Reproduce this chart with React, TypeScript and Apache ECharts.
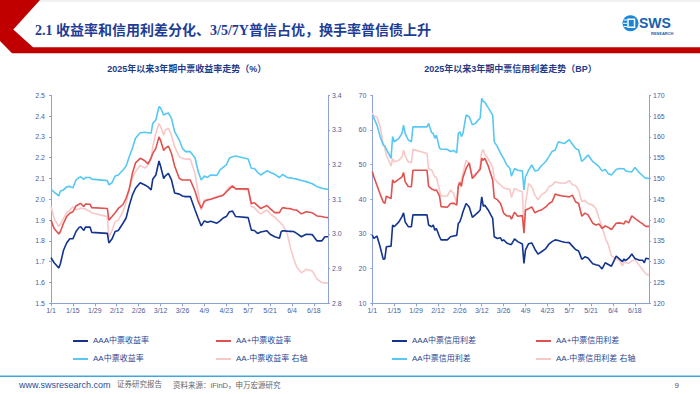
import React, { useEffect, useRef } from "react";
import * as echarts from "echarts";

// ---------- data (day index counted from 2025-01-01) ----------
const tickDays = [0, 14, 28, 42, 56, 70, 84, 98, 112, 126, 140, 154, 168];

const leftDays = [0,2,5,6,8,10,12,14,16,18,19,21,22,25,26,36,37,39,41,43,46,48,50,52,54,57,60,62,64,65,67,69,70,72,73,75,77,79,82,84,86,89,92,94,96,98,100,102,106,108,110,112,114,116,118,126,128,130,132,134,138,140,143,146,147,148,151,153,155,157,160,163,167,170,173,175,177];

const yieldAAA = [1.72,1.695,1.67,1.69,1.755,1.79,1.81,1.81,1.845,1.865,1.868,1.85,1.866,1.866,1.841,1.836,1.79,1.81,1.845,1.85,1.885,1.91,1.97,2.02,2.053,2.08,2.069,2.06,2.045,2.096,2.117,2.184,2.16,2.10,2.112,2.125,2.093,2.03,2.025,2.016,2.013,2.013,1.95,1.91,1.872,1.896,1.89,1.895,1.885,1.896,1.91,1.917,1.94,1.943,1.917,1.912,1.852,1.85,1.836,1.843,1.849,1.832,1.82,1.813,1.843,1.849,1.847,1.846,1.845,1.836,1.82,1.832,1.83,1.80,1.80,1.82,1.82];
const yieldAAp = [1.90,1.86,1.833,1.845,1.885,1.917,1.933,1.94,1.968,1.977,1.98,1.965,1.977,1.976,1.96,1.956,1.90,1.917,1.935,1.956,1.975,2.005,2.05,2.125,2.175,2.197,2.185,2.17,2.2,2.22,2.245,2.30,2.284,2.234,2.245,2.256,2.22,2.16,2.10,2.093,2.093,2.093,2.04,1.99,1.957,1.99,1.997,2.0,2.01,2.015,2.02,2.035,2.05,2.064,2.05,2.05,1.98,1.983,1.97,1.956,1.97,1.955,1.936,1.936,1.95,1.96,1.956,1.955,1.95,1.948,1.93,1.94,1.935,1.92,1.917,1.914,1.912];
const yieldAA = [2.048,2.035,2.016,2.04,2.045,2.06,2.062,2.055,2.093,2.105,2.108,2.096,2.105,2.105,2.097,2.09,2.069,2.08,2.112,2.117,2.141,2.16,2.205,2.245,2.293,2.32,2.322,2.32,2.318,2.365,2.381,2.445,2.44,2.405,2.41,2.415,2.389,2.325,2.285,2.245,2.229,2.229,2.2,2.135,2.093,2.112,2.105,2.117,2.115,2.141,2.153,2.165,2.197,2.205,2.208,2.194,2.149,2.148,2.13,2.117,2.137,2.13,2.12,2.105,2.112,2.12,2.105,2.103,2.1,2.097,2.09,2.085,2.075,2.061,2.053,2.05,2.048];
const yieldAAm = [3.079,3.045,3.021,3.028,3.045,3.061,3.069,3.078,3.07,3.072,3.075,3.073,3.072,3.065,3.061,3.05,2.99,3.01,3.035,3.04,3.065,3.09,3.13,3.16,3.18,3.198,3.19,3.199,3.215,3.252,3.29,3.319,3.31,3.285,3.3,3.305,3.285,3.252,3.223,3.218,3.216,3.216,3.175,3.12,3.069,3.098,3.1,3.099,3.108,3.11,3.112,3.125,3.136,3.14,3.13,3.127,3.079,3.076,3.065,3.058,3.069,3.058,3.048,3.035,3.03,3.026,3.0,2.96,2.93,2.905,2.888,2.898,2.893,2.87,2.86,2.859,2.859];

const rightDays = [0,1,3,5,7,8,9,12,13,14,17,19,20,21,23,25,26,35,36,38,39,40,41,43,44,48,50,52,54,55,56,57,58,60,62,64,66,68,69,70,71,72,74,77,78,80,82,83,84,86,88,89,91,93,96,97,98,100,102,104,106,108,111,113,115,117,119,121,123,126,128,130,132,134,136,138,141,143,145,147,149,151,153,156,158,160,161,162,164,166,168,171,173,174,175,177];

const spreadAAA = [29.7,28.7,29.4,26.3,22.7,22.8,26.3,26.5,32.6,32.1,33.5,35,36.1,33.5,32.1,32.1,35.5,35.5,32.6,32.1,32.6,31.1,31.6,29.2,28.3,28.3,29.2,29.4,29.6,33,33.5,34.8,36.4,38.8,37.8,34.8,35.6,36.4,36.9,40.7,38,38.3,37,34.5,29.2,28.7,28.9,28,28.3,27.4,27,27,28.6,27.8,27.1,21.5,25.4,27.2,27.4,25.6,24.2,24.8,25.8,27.1,27.8,28.3,28.1,27.8,27.6,27.5,26.5,25.5,25.1,22.7,23.4,23.1,21.4,21.1,20.9,19.9,21.7,21.2,20.7,23.6,22.8,22,22.8,22.3,23,24.2,22.9,22.4,22.4,21.7,23,22.8];
const spreadAAp = [48,46.5,44,41.5,39.2,38.8,40.9,40.2,45.6,44.8,45.8,46.5,47.7,45.1,43.7,43.6,48.4,48.4,43.7,43,42.8,42.5,42.7,41,37.9,37.7,38.8,38.9,38.3,43.7,44.8,43.7,46.3,48.9,50.5,46,47,48.2,48.6,51.8,51.3,51.8,49.8,45.6,40.4,39.9,38.8,37.5,36,35.2,35.2,34.3,36.3,35.1,35.3,30.2,36.9,37.3,37.8,36.1,36.6,36.9,37.8,38.8,39.3,41.5,41.2,41,40.9,40.7,41.2,39.3,38.8,35.1,36,35.5,33.1,32.6,32.9,31.6,32.3,31.9,31.3,33.1,33.2,33,32.9,33.8,33.2,35.2,34.5,33.5,32.9,32.5,32.2,32.2];
const spreadAA = [64.3,63.4,61.4,58.1,55.7,55.4,54.5,51.8,58.1,56.6,57.6,59,61.4,59,57.1,56.6,60.9,60.9,61.9,59.2,59,57.6,58.5,54.7,54.5,54.4,53.8,54.1,53.4,59,59.5,58.1,59,64.3,63.8,61.5,61.9,63,63.4,69.1,68.2,68,66.5,64.3,56.6,55.2,53.3,52.5,51.8,49.9,48.9,46.7,48.9,48.4,48.2,42.7,46.5,48.4,49.9,48.2,48.4,49.6,50.9,52.3,53.8,54.2,56.6,56.3,56.1,57.2,55.9,54.7,54.2,50.9,51.8,52.8,50.9,50.2,49.4,48.2,48.6,47.4,47,48.6,48.9,48.8,48.8,48.2,48,47.9,49.2,47.6,46.8,46.3,46.1,46];
const spreadAAm = [165.7,165,164.8,162.5,158.2,157.3,155.6,153,154.8,154,154.4,155.2,156.8,155.4,154,153.8,157,156,152.4,152,151.2,150.4,150.3,147.2,145.8,145.8,147.2,146.4,144,148.8,149.2,149.5,151.2,154.4,153.6,150.4,151.2,151.6,153.2,156.4,157,155.7,154.8,152.8,150,149.2,148.4,148.1,147.8,147.5,147.4,145.5,147.6,147.2,146.8,137.6,144,148.8,148,146,144.9,146,146.8,148,148.4,149.2,149,148.9,148.8,149.5,148.5,148.3,147.2,144.4,144.8,144,143.6,142.8,140.5,138.4,135.8,134,131.4,130.6,130.4,129,130,129.8,129.6,130.2,130.5,129,128,127.6,127,126.8];

const leftNames = ["AAA中票收益率", "AA+中票收益率", "AA中票收益率", "AA-中票收益率 右轴"];
const rightNames = ["AAA中票信用利差", "AA+中票信用利差", "AA中票信用利差", "AA-中票信用利差 右轴"];
const colors = ["#12348f", "#e0524f", "#56c8f3", "#f8c8c8"];

// ---------- helpers ----------
const FONT = "'Liberation Sans', 'Noto Sans CJK SC', sans-serif";
const AXIS_COLOR = "#8ea2d8";
const LABEL_COLOR = "#4d60a0";

const fmtDay = (d: number) => {
  const dt = new Date(2025, 0, 1 + d);
  return `${dt.getMonth() + 1}/${dt.getDate()}`;
};

const pairs = (days: number[], vals: number[]) => days.map((d, i) => [d, vals[i]]);

const xAxisDef = (gridIndex: number) => ({
  type: "value",
  gridIndex,
  min: 0,
  max: 177,
  splitLine: { show: false },
  axisLine: { show: true, lineStyle: { color: AXIS_COLOR, width: 1 } },
  axisTick: { show: true, length: 3, customValues: tickDays, lineStyle: { color: AXIS_COLOR } },
  axisLabel: {
    customValues: tickDays,
    formatter: (v: number) => fmtDay(v),
    fontSize: 7,
    color: LABEL_COLOR,
    fontFamily: FONT,
    margin: 4,
  },
});

const yAxisDef = (
  gridIndex: number,
  position: "left" | "right",
  min: number,
  max: number,
  interval: number,
  digits: number
) => ({
  type: "value",
  gridIndex,
  position,
  min,
  max,
  interval,
  splitLine: { show: false },
  axisLine: { show: true, lineStyle: { color: AXIS_COLOR, width: 1 } },
  axisTick: { show: true, length: 2, lineStyle: { color: AXIS_COLOR } },
  axisLabel: {
    formatter: (v: number) => v.toFixed(digits),
    fontSize: 7,
    color: LABEL_COLOR,
    fontFamily: FONT,
    margin: position === "left" ? 6 : 4,
  },
});

const lineSeries = (name: string, color: string, xi: number, yi: number, data: number[][], z: number) => ({
  type: "line",
  name,
  xAxisIndex: xi,
  yAxisIndex: yi,
  data,
  showSymbol: false,
  symbol: "none",
  z,
  color,
  itemStyle: { color },
  lineStyle: { color, width: 1.6 },
});

const legendDef = (name: string, left: number, top: number) => ({
  data: [name],
  left,
  top,
  padding: 0,
  icon: "rect",
  itemWidth: 15,
  itemHeight: 2,
  selectedMode: false,
  textStyle: { fontSize: 8, color: "#2c4590", fontFamily: FONT },
});

export default function App() {
  const ref = useRef<HTMLDivElement>(null);

  useEffect(() => {
    if (!ref.current) return;
    const chart = echarts.init(ref.current, null, { renderer: "svg" });

    const option: any = {
      animation: false,
      backgroundColor: "#ffffff",
      grid: [
        { left: 51, top: 95.3, width: 277, height: 208 },
        { left: 372.3, top: 95.3, width: 276.7, height: 208 },
      ],
      xAxis: [xAxisDef(0), xAxisDef(1)],
      yAxis: [
        yAxisDef(0, "left", 1.5, 2.5, 0.1, 1),
        yAxisDef(0, "right", 2.8, 3.4, 0.1, 1),
        yAxisDef(1, "left", 10, 70, 10, 0),
        yAxisDef(1, "right", 120, 170, 5, 0),
      ],
      legend: [
        legendDef(leftNames[0], 73, 337),
        legendDef(leftNames[1], 216, 337),
        legendDef(leftNames[2], 73, 355),
        legendDef(leftNames[3], 216, 355),
        legendDef(rightNames[0], 392, 337),
        legendDef(rightNames[1], 536, 337),
        legendDef(rightNames[2], 392, 355),
        legendDef(rightNames[3], 536, 355),
      ],
      series: [
        lineSeries(leftNames[3], colors[3], 0, 1, pairs(leftDays, yieldAAm), 1),
        lineSeries(leftNames[2], colors[2], 0, 0, pairs(leftDays, yieldAA), 2),
        lineSeries(leftNames[1], colors[1], 0, 0, pairs(leftDays, yieldAAp), 3),
        lineSeries(leftNames[0], colors[0], 0, 0, pairs(leftDays, yieldAAA), 4),
        lineSeries(rightNames[3], colors[3], 1, 3, pairs(rightDays, spreadAAm), 1),
        lineSeries(rightNames[2], colors[2], 1, 2, pairs(rightDays, spreadAA), 2),
        lineSeries(rightNames[1], colors[1], 1, 2, pairs(rightDays, spreadAAp), 3),
        lineSeries(rightNames[0], colors[0], 1, 2, pairs(rightDays, spreadAAA), 4),
      ],
      graphic: [
        // top faint line
        { type: "rect", shape: { x: 40, y: 0.5, width: 660, height: 1 }, style: { fill: "#e4e4e4" }, silent: true },
        // red header band
        {
          type: "polygon",
          shape: {
            points: [
              [0, 0], [40, 0], [13.3, 29.5], [33, 47.3], [700, 47.3], [700, 53.3], [12, 53.3], [0, 41],
            ],
          },
          style: { fill: "#c00000" },
          silent: true,
        },
        {
          type: "text",
          x: 35,
          y: 30.5,
          style: {
            text: "2.1 收益率和信用利差分化、3/5/7Y普信占优，换手率普信债上升",
            fill: "#1e3c96",
            font: "bold 14px 'Liberation Serif', 'Noto Sans CJK SC', serif",
            verticalAlign: "middle",
            align: "left",
          },
        },
        // logo
        { type: "circle", shape: { cx: 630.5, cy: 23.3, r: 8 }, style: { fill: "#1a86d6" } },
        { type: "rect", shape: { x: 628, y: 19.3, width: 6.5, height: 8 }, style: { fill: "#1a86d6", stroke: "#ffffff", lineWidth: 1.5 } },
        { type: "line", shape: { x1: 623.5, y1: 20, x2: 627, y2: 20 }, style: { stroke: "#ffffff", lineWidth: 1 } },
        { type: "line", shape: { x1: 623, y1: 23.3, x2: 627, y2: 23.3 }, style: { stroke: "#ffffff", lineWidth: 1 } },
        { type: "line", shape: { x1: 623.5, y1: 26.6, x2: 627, y2: 26.6 }, style: { stroke: "#ffffff", lineWidth: 1 } },
        {
          type: "text",
          x: 639,
          y: 23,
          style: { text: "SWS", fill: "#1560b0", font: "bold 14px 'Liberation Sans', sans-serif", verticalAlign: "middle" },
        },
        {
          type: "text",
          x: 651,
          y: 33.3,
          style: { text: "RESEARCH", fill: "#1560b0", font: "bold 4px 'Liberation Sans', sans-serif", verticalAlign: "middle" },
        },
        // chart titles
        {
          type: "text",
          x: 186.7,
          y: 69,
          style: {
            text: "2025年以来3年期中票收益率走势（%）",
            fill: "#1f3c88",
            font: `bold 9px ${FONT}`,
            align: "center",
            verticalAlign: "middle",
          },
        },
        {
          type: "text",
          x: 510.5,
          y: 69,
          style: {
            text: "2025年以来3年期中票信用利差走势（BP）",
            fill: "#1f3c88",
            font: `bold 9px ${FONT}`,
            align: "center",
            verticalAlign: "middle",
          },
        },
        // footer
        { type: "rect", shape: { x: 0, y: 375.5, width: 700, height: 1.6 }, style: { fill: "#3fa7df" }, silent: true },
        {
          type: "text",
          x: 19,
          y: 385,
          style: { text: "www.swsresearch.com", fill: "#1f4e9a", font: `9px ${FONT}`, verticalAlign: "middle" },
        },
        {
          type: "text",
          x: 117,
          y: 384.5,
          style: { text: "证券研究报告", fill: "#666666", font: `7.5px ${FONT}`, verticalAlign: "middle" },
        },
        {
          type: "text",
          x: 173,
          y: 385,
          style: { text: "资料来源：iFinD，申万宏源研究", fill: "#666666", font: `7.5px ${FONT}`, verticalAlign: "middle" },
        },
        {
          type: "text",
          x: 676.7,
          y: 385,
          style: { text: "9", fill: "#555555", font: `8px ${FONT}`, verticalAlign: "middle", align: "center" },
        },
      ],
    };

    chart.setOption(option);
    return () => chart.dispose();
  }, []);

  return (
    <div
      ref={ref}
      style={{ position: "fixed", left: 0, top: 0, width: 700, height: 394, background: "#fff" }}
    />
  );
}
